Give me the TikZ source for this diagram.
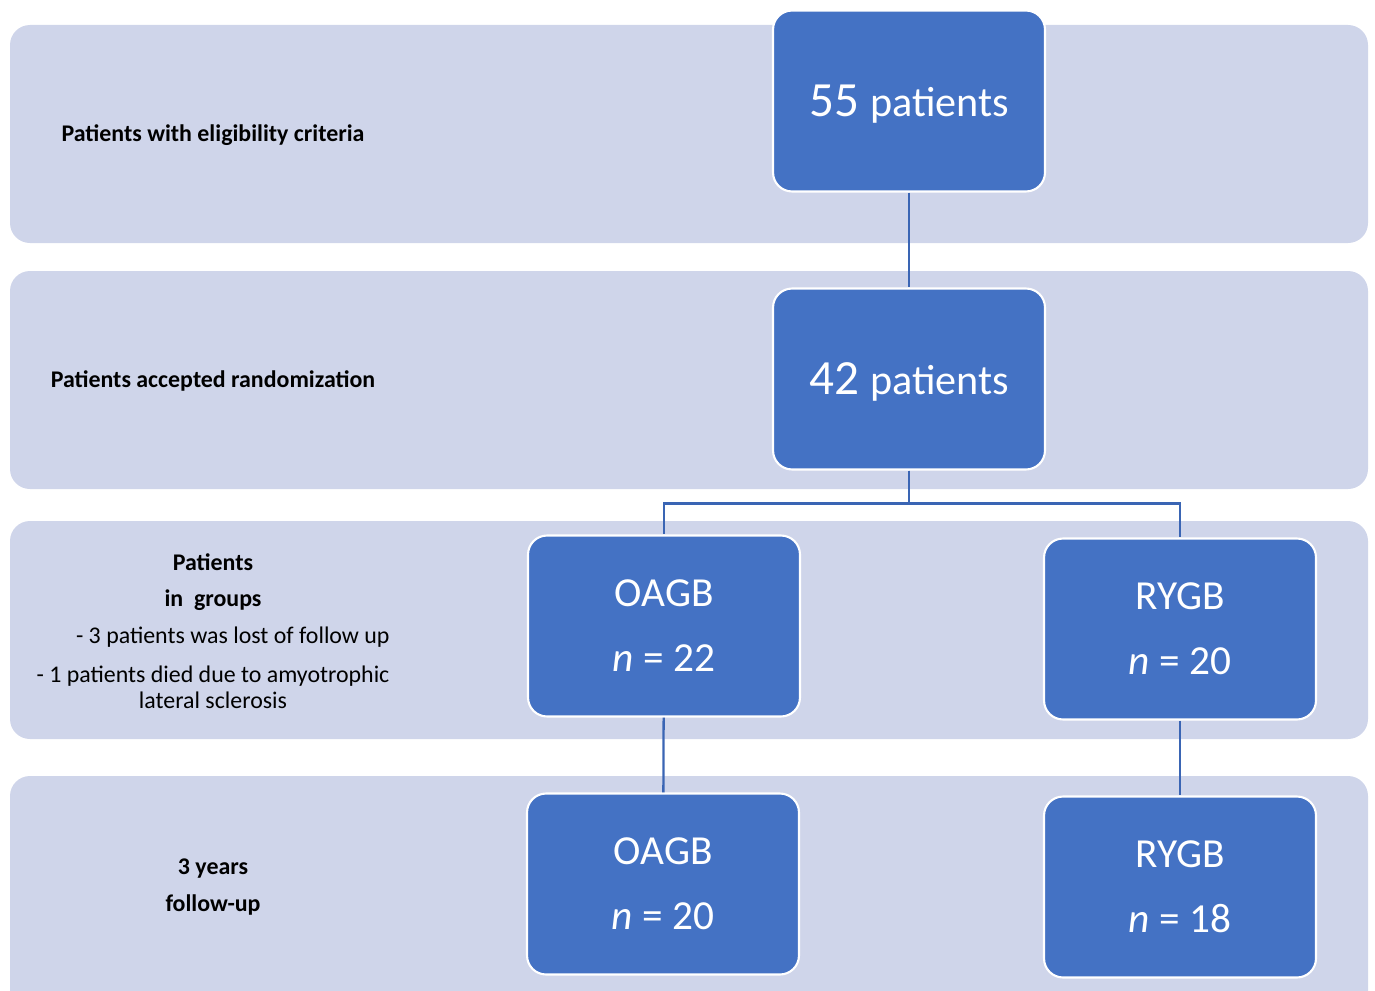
\documentclass[tikz,border=0pt]{standalone}
\usepackage{fontspec}
\setmainfont{Carlito}
\usepackage{xcolor}
\usepackage{tikz}
\usetikzlibrary{positioning,calc}
\definecolor{bandfill}{HTML}{CFD5EA}
\definecolor{boxfill}{HTML}{4472C4}
\definecolor{linkblue}{HTML}{3A65B4}

\begin{document}
\begin{tikzpicture}[x=0.02cm,y=-0.02cm,
  band/.style={fill=bandfill, rounded corners=0.4cm},
  stage/.style={draw=white, line width=1.2pt, fill=boxfill, rounded corners=0.38cm,
    minimum width=5.44cm, minimum height=3.62cm, text=white, align=center, inner sep=0pt},
  lbl/.style={font=\fontsize{13.6}{15}\selectfont\bfseries, align=center, inner sep=0pt},
  note/.style={font=\fontsize{13.6}{15}\selectfont, align=center, inner sep=0pt},
  link/.style={draw=linkblue, line width=1.3pt}]
	\clip (0,0) rectangle (1375,990);

	% background bands
	\fill[band] (10,25) rectangle (1368,243);
	\fill[band] (10,271) rectangle (1368,489);
	\fill[band] (10,521) rectangle (1368,739);
	\fill[band] (10,776) rectangle (1368,1030);

	% left labels
	\node[lbl] (elig) at (213,135) {Patients with eligibility criteria};
	\node[lbl] (rand) at (213,381) {Patients accepted randomization};
	\node[lbl] (grpa) at (213,562) {Patients};
	\node[lbl] (grpb) at (213,600) {in\ \ groups};
	\node[note, anchor=east] (grpc) at (390,637) {- 3 patients was lost of follow up};
	\node[note] (grpd) at (213,687) {- 1 patients died due to amyotrophic\\lateral sclerosis};
	\node[lbl] (fup) at (213,887) {3 years\\[6pt]follow-up};

	% boxes
	\node[stage] (p55) at (909,101) {\raisebox{-8.8pt}[0pt][0pt]{\fontsize{28}{32}\selectfont 55 {\fontsize{24}{28}\selectfont patients}}};
	\node[stage] (p42) at (909,379) {\raisebox{-8.8pt}[0pt][0pt]{\fontsize{28}{32}\selectfont 42 {\fontsize{24}{28}\selectfont patients}}};
	\node[stage, font=\fontsize{23.5}{28}\selectfont] (oagba) at (664,626) {OAGB\\[9pt]\textit{n} = 22};
	\node[stage, font=\fontsize{23.5}{28}\selectfont] (rygba) at (1180,629) {RYGB\\[9pt]\textit{n} = 20};
	\node[stage, font=\fontsize{23.5}{28}\selectfont] (oagbb) at (663,884) {OAGB\\[9pt]\textit{n} = 20};
	\node[stage, font=\fontsize{23.5}{28}\selectfont] (rygbb) at (1180,887) {RYGB\\[9pt]\textit{n} = 18};

	% connectors
	\draw[link] (p55) -- (p42);
	\draw[link] (p42.south) -- ++(0,33) -| (oagba.north);
	\draw[link] (p42.south) -- ++(0,33) -| (rygba.north);
	\draw[link] (oagba) -- (oagbb);
	\draw[link] (rygba) -- (rygbb);
\end{tikzpicture}
\end{document}
